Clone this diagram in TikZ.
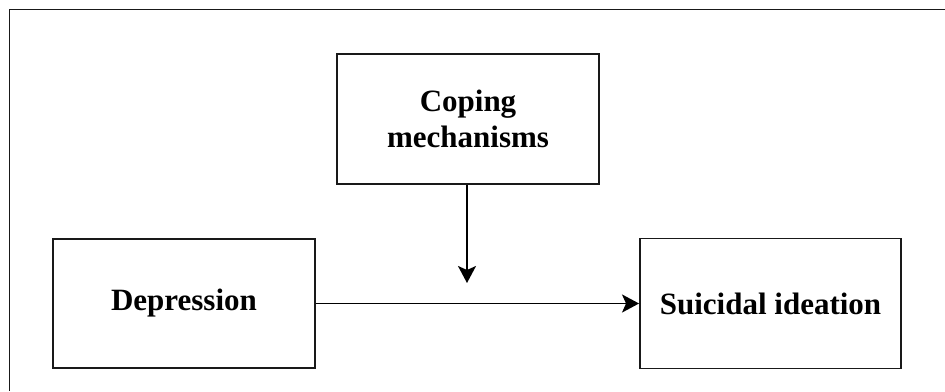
\documentclass[tikz,border=0pt]{standalone}
\usepackage{fontspec}
\setmainfont{Liberation Serif}
\usetikzlibrary{arrows.meta}
\begin{document}
\begin{tikzpicture}[x=1pt,y=-1pt,
  box/.style={draw=black!90, line width=1.9pt, minimum width=#1, align=center,
    font=\bfseries\fontsize{31}{36}\selectfont, inner sep=0pt},
  conn/.style={line width=1.9pt, -{Stealth[length=17pt,width=18pt,inset=4pt]}}]
\useasboundingbox (0,0) rectangle (945,391);
\fill[white] (0,0) rectangle (945,391);
\draw[line width=1.9pt, black!90] (945,9.5) -- (9.5,9.5) -- (9.5,391);
\node[box=262pt, minimum height=130pt] (cope) at (468,119) {Coping\\mechanisms};
\node[box=262pt, minimum height=129pt] (dep) at (184,303.5) {Depression};
\node[box=261pt, minimum height=130pt] (sui) at (770.5,303.5) {Suicidal ideation};
\coordinate (mid) at (467,283);
\draw[conn] (cope.south -| mid) -- (mid);
\draw[conn] (dep.east) -- (sui.west);
\end{tikzpicture}
\end{document}
